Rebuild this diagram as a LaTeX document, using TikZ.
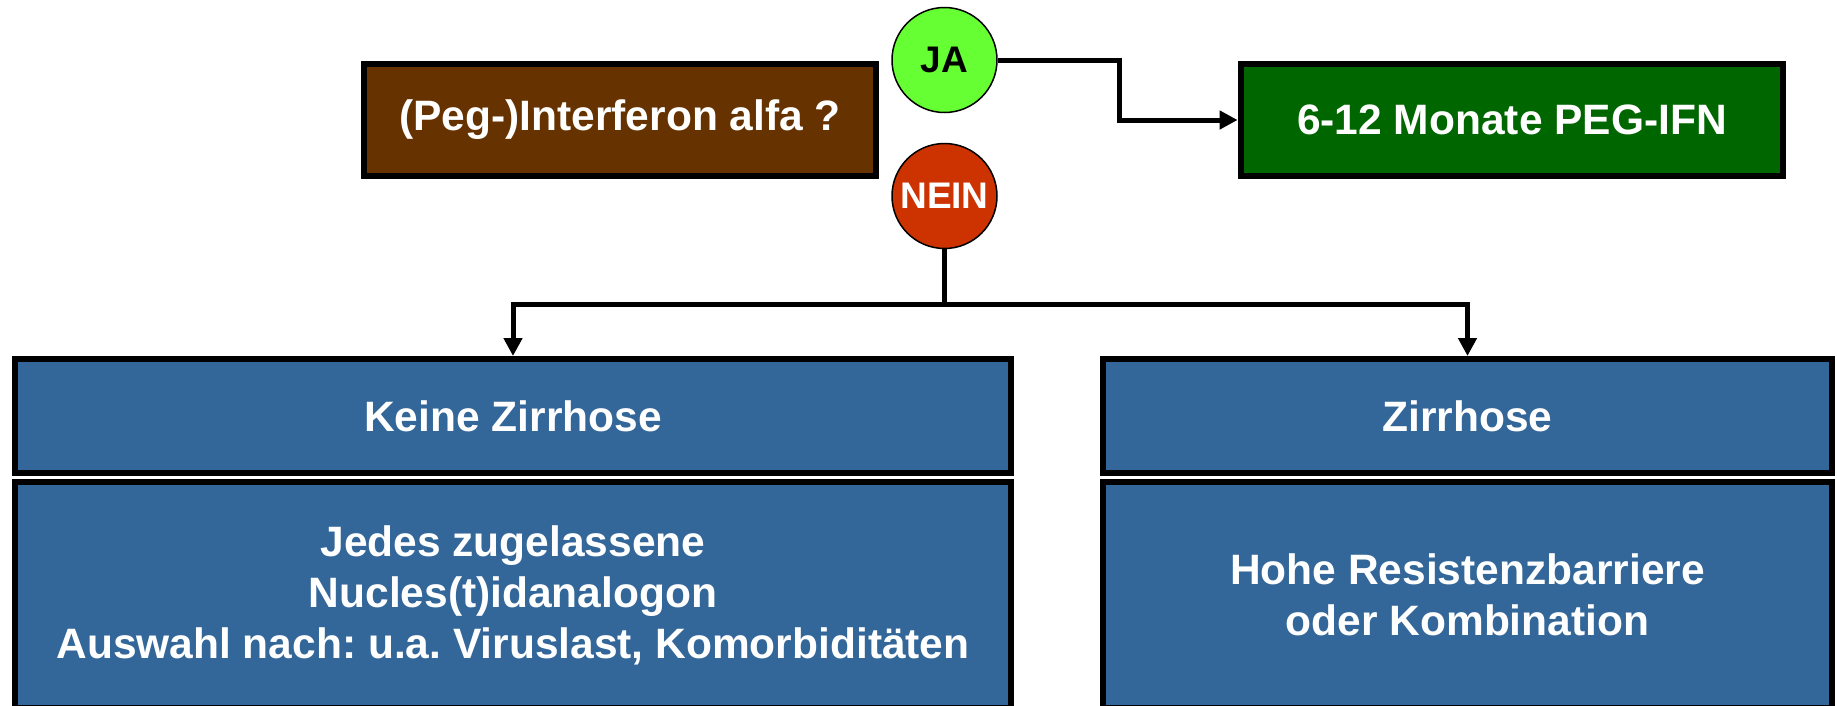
\documentclass[tikz,border=0pt]{standalone}
\usepackage{fontspec}
\setmainfont{Liberation Sans}
\usetikzlibrary{arrows.meta}
\definecolor{brownbox}{HTML}{663300}
\definecolor{greenbox}{HTML}{006600}
\definecolor{bluebox}{HTML}{336699}
\definecolor{jagreen}{HTML}{66FF33}
\definecolor{neinred}{HTML}{CC3300}
\frenchspacing
\begin{document}
\begin{tikzpicture}[x=1pt,y=-1pt,
  txt/.style={font=\fontsize{42.5}{51}\selectfont\bfseries\frenchspacing, text=white},
  box/.style={draw=black, line width=6pt, inner sep=0pt, align=center, txt},
  bubble/.style={circle, draw=black, line width=1.5pt, minimum size=105pt, inner sep=0pt, font=\fontsize{37}{44}\selectfont\bfseries},
  conn/.style={line width=5pt, draw=black},
  arr/.style={conn, -{Triangle[length=18pt,width=18pt]}}]
\useasboundingbox (0,0) rectangle (1837,705);

% top row
\node[box, fill=brownbox, minimum width=512pt, minimum height=112pt] (peg) at (620,120) {(Peg-)Interferon alfa ?};
\node[box, fill=greenbox, minimum width=542.8pt, minimum height=112pt] (ifn) at (1512,120) {6-12 Monate PEG-IFN};
\node[bubble, fill=jagreen, text=black] (ja) at (944.5,60) {JA};
\node[bubble, fill=neinred, text=white] (nein) at (944.5,196) {NEIN};

% bottom boxes
\node[box, fill=bluebox, minimum width=996pt, minimum height=114pt] (kz) at (513,416) {Keine Zirrhose};
\node[box, fill=bluebox, minimum width=996pt, minimum height=226pt] (kzt) at (513,595)
  {Jedes zugelassene\\Nucles(t)idanalogon\\Auswahl nach: u.a. Viruslast, Komorbiditäten};
\node[box, fill=bluebox, minimum width=729pt, minimum height=114pt] (zi) at (1467.5,416) {Zirrhose};
\node[box, fill=bluebox, minimum width=729pt, minimum height=226pt] (zit) at (1467.5,595)
  {Hohe Resistenzbarriere\\oder Kombination};

% connectors
\coordinate (jabend) at (1119,60);
\draw[arr] (ja.east) -- (jabend) |- (ifn.west);
\coordinate (split) at (944.5,304.5);
\draw[conn] (nein.south) -- (split);
\draw[arr] (split) -| (kz.north);
\draw[arr] (split) -| (zi.north);
\end{tikzpicture}
\end{document}
